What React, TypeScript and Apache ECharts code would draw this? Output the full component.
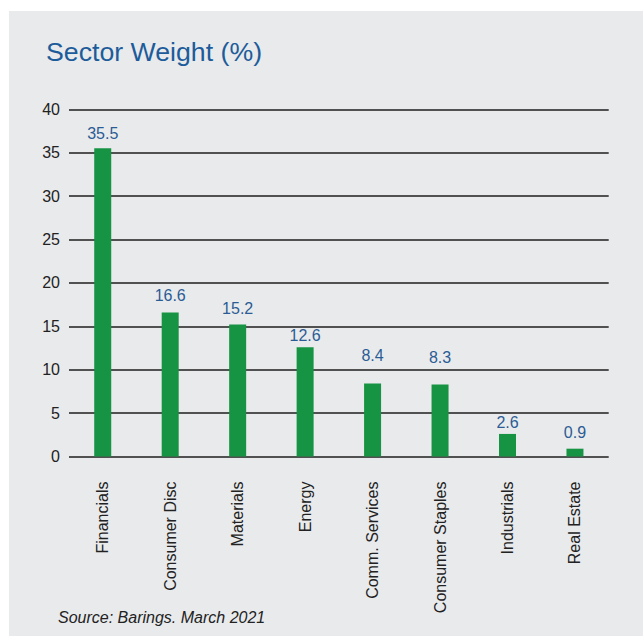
import React, { useEffect, useRef } from "react";
import * as echarts from "echarts";

const categories = [
  "Financials",
  "Consumer Disc",
  "Materials",
  "Energy",
  "Comm. Services",
  "Consumer Staples",
  "Industrials",
  "Real Estate",
];
const weights = [35.5, 16.6, 15.2, 12.6, 8.4, 8.3, 2.6, 0.9];
const titleText = "Sector Weight (%)";
const sourceText = "Source: Barings. March 2021";

// label gap (px) above each bar, as placed in the original artwork
const labelGaps = [6.6, 8.6, 7.6, 3.6, 19.6, 18.6, 3.6, 8.6];

const FONT = "'Liberation Sans', Arial, Helvetica, sans-serif";

export default function App() {
  const ref = useRef<HTMLDivElement>(null);
  useEffect(() => {
    if (!ref.current) return;
    const chart = echarts.init(ref.current, null, { renderer: "svg" });
    chart.setOption({
      animation: false,
      backgroundColor: "#ffffff",
      textStyle: { fontFamily: FONT },
      graphic: [
        {
          type: "rect",
          z: -10,
          shape: { x: 9, y: 11, width: 634, height: 625 },
          style: { fill: "#e9eaec" },
        },
        {
          type: "text",
          x: 46,
          y: 51.5,
          style: {
            text: titleText,
            fontSize: 26.7,
            fontFamily: FONT,
            fill: "#1d5c9a",
            verticalAlign: "middle",
            align: "left",
          },
        },
        {
          type: "text",
          x: 58,
          y: 617,
          style: {
            text: sourceText,
            fontSize: 16,
            fontStyle: "italic",
            fontFamily: FONT,
            fill: "#222222",
            verticalAlign: "middle",
            align: "left",
          },
        },
      ],
      grid: { left: 69, top: 109.3, width: 539.7, height: 347.2 },
      xAxis: {
        type: "category",
        data: categories,
        axisLine: { show: false },
        axisTick: { show: false },
        axisLabel: {
          rotate: 90,
          margin: 25,
          fontSize: 16,
          color: "#222222",
          fontFamily: FONT,
          interval: 0,
        },
      },
      yAxis: {
        type: "value",
        min: 0,
        max: 40,
        interval: 5,
        axisLine: { show: false },
        axisTick: { show: false },
        axisLabel: { margin: 9, fontSize: 16, color: "#222222", fontFamily: FONT },
        splitLine: { lineStyle: { color: "#1e1e1e", width: 1.5 } },
      },
      series: [
        {
          type: "bar",
          data: weights.map((v, i) => ({
            value: v,
            label: { distance: labelGaps[i] },
          })),
          barWidth: 17,
          itemStyle: { color: "#169443" },
          label: {
            show: true,
            position: "top",
            distance: 7,
            fontSize: 16,
            color: "#2b5c94",
            fontFamily: FONT,
          },
        },
      ],
    });
    return () => chart.dispose();
  }, []);
  return (
    <div
      ref={ref}
      style={{ position: "absolute", left: 0, top: 0, width: 644, height: 636 }}
    />
  );
}
